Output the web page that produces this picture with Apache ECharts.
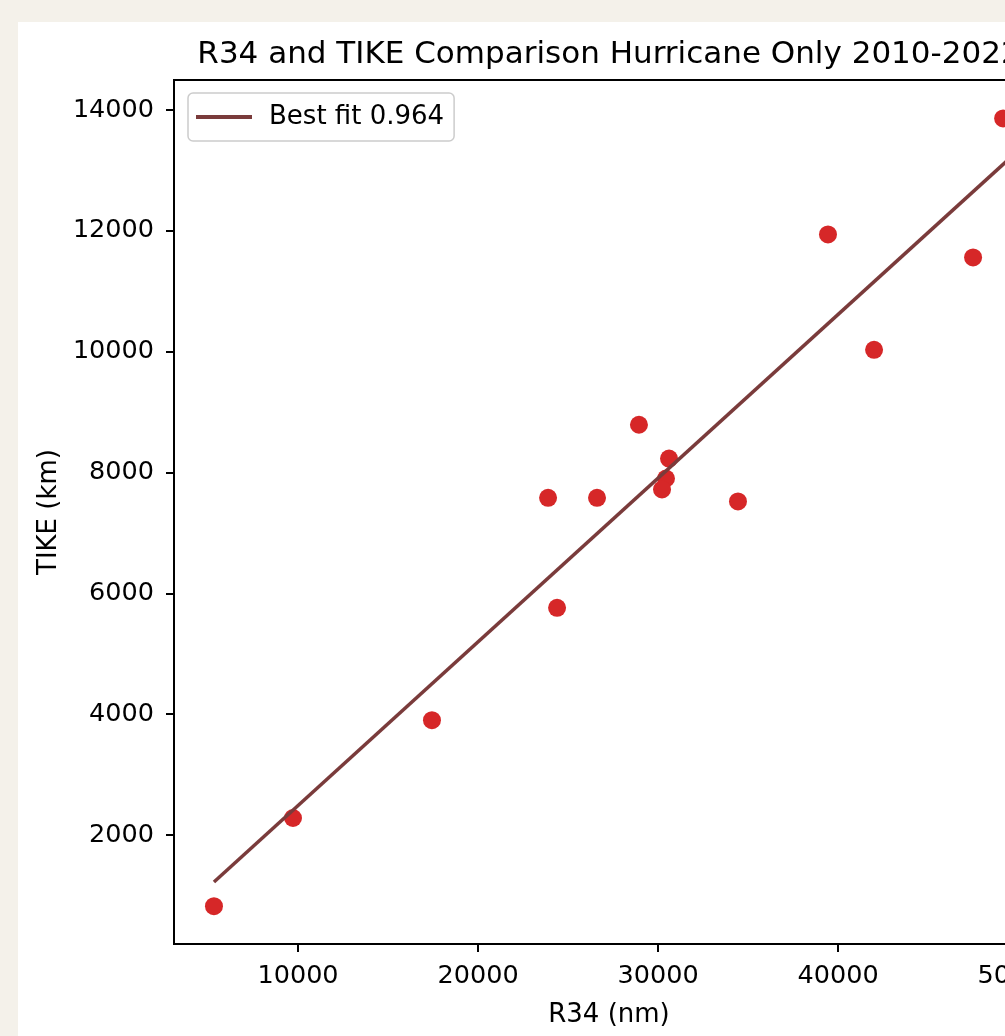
<!DOCTYPE html>
<html>
<head>
<meta charset="utf-8">
<script src="https://cdn.jsdelivr.net/npm/echarts@6/dist/echarts.min.js"></script>
<style>
  html, body { margin: 0; padding: 0; background: #f4f1ea; overflow: hidden; width: 1005px; height: 1036px; }
  #panel { position: absolute; left: 18px; top: 22px; width: 1200px; height: 1100px; background: #fff; }
  #chart { position: absolute; left: 0; top: 0; width: 1182px; height: 1014px; }
</style>
</head>
<body>
<div id="panel"><div id="chart"></div></div>
<script>
// data
var r34 = [5330, 9720, 17440, 23890, 26610, 24390, 28940, 30610, 30440, 30220, 34440, 39440, 42000, 47500, 49170];
var tike = [820, 2280, 3900, 7580, 7580, 5760, 8790, 8230, 7900, 7720, 7520, 11940, 10030, 11560, 13860];
var fitX = [5330, 51200];
var fitY = [1220, 13650];
var xTicks = [10000, 20000, 30000, 40000, 50000];
var yTicks = [2000, 4000, 6000, 8000, 10000, 12000, 14000];

var myChart = echarts.init(document.getElementById('chart'));

var points = r34.map(function (x, i) { return [x, tike[i]]; });
var fitLine = fitX.map(function (x, i) { return [x, fitY[i]]; });

var font = 'DejaVu Sans';
var plain = function (v) { return String(v); };
var option = {
    animation: false,
    title: {
        text: 'R34 and TIKE Comparison Hurricane Only 2010-2022',
        left: 'center',
        top: 12,
        textStyle: { fontFamily: font, fontSize: 31, fontWeight: 'normal', color: '#000' }
    },
    legend: {
        left: 170,
        top: 71,
        data: ['Best fit 0.964'],
        icon: 'rect',
        itemWidth: 56,
        itemHeight: 4,
        padding: [11, 10, 11, 8],
        borderColor: '#cccccc',
        borderWidth: 1.5,
        borderRadius: 5,
        backgroundColor: 'rgba(255,255,255,0.8)',
        textStyle: { fontFamily: font, fontSize: 26, color: '#000', padding: [0, 0, 0, 12] }
    },
    grid: {
        left: 156,
        top: 58,
        width: 870,
        height: 864,
        show: true,
        borderColor: '#000',
        borderWidth: 2,
        backgroundColor: '#fff'
    },
    xAxis: {
        type: 'value',
        min: 3110,
        max: 51440,
        name: 'R34 (nm)',
        nameLocation: 'middle',
        nameGap: 58,
        nameTextStyle: { fontFamily: font, fontSize: 26, color: '#000' },
        splitLine: { show: false },
        axisLine: { show: true, onZero: false, lineStyle: { color: '#000', width: 2 } },
        axisTick: { show: true, length: 8, lineStyle: { color: '#000', width: 2 }, customValues: xTicks },
        axisLabel: { fontFamily: font, fontSize: 25.5, color: '#000', margin: 19, formatter: plain, customValues: xTicks }
    },
    yAxis: {
        type: 'value',
        min: 194,
        max: 14497,
        name: 'TIKE (km)',
        nameLocation: 'middle',
        nameGap: 111,
        nameTextStyle: { fontFamily: font, fontSize: 26, color: '#000' },
        splitLine: { show: false },
        axisLine: { show: true, onZero: false, lineStyle: { color: '#000', width: 2 } },
        axisTick: { show: true, length: 8, lineStyle: { color: '#000', width: 2 }, customValues: yTicks },
        axisLabel: { fontFamily: font, fontSize: 25.5, color: '#000', margin: 20, formatter: plain, customValues: yTicks }
    },
    series: [
        {
            type: 'scatter',
            data: points,
            symbolSize: 18,
            itemStyle: { color: '#d62728', opacity: 1 },
            z: 2
        },
        {
            name: 'Best fit 0.964',
            type: 'line',
            data: fitLine,
            symbol: 'none',
            lineStyle: { color: '#7a3b3b', width: 3.5 },
            itemStyle: { color: '#7a3b3b' },
            z: 3
        }
    ]
};

myChart.setOption(option);
</script>
</body>
</html>
